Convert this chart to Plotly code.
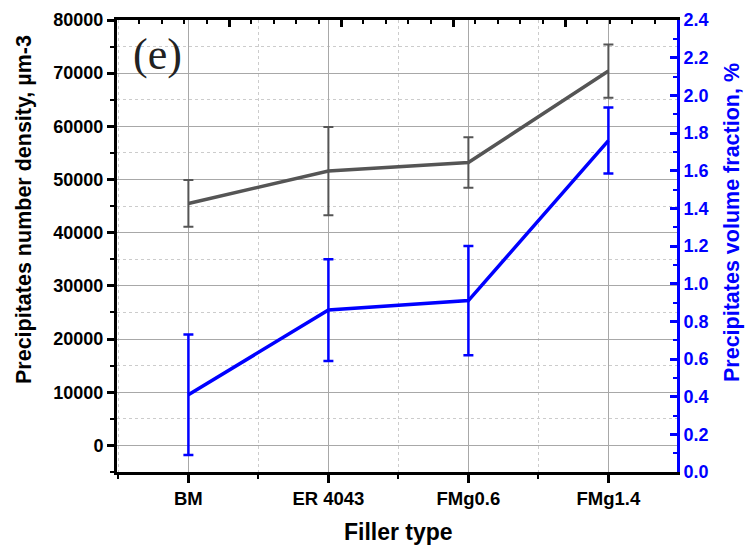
import plotly.graph_objects as go

# Data
fillers = ["BM", "ER 4043", "FMg0.6", "FMg1.4"]
number_density = [45500, 51600, 53200, 70400]          # µm-3
number_density_err = [4400, 8300, 4750, 5000]
volume_fraction = [0.41, 0.86, 0.91, 1.76]              # %
volume_fraction_err = [0.32, 0.27, 0.29, 0.175]

x_pos = list(range(len(fillers)))

GRAY = "#555555"
BLUE = "#0000ff"
FONT = "Liberation Sans"

W, H = 746, 547
L, R, T, B = 117, 69, 20, 75


def px(x, y):
    # pixel position -> paper coords
    return (x - L) / (W - L - R), (H - B - y) / (H - T - B)


fig = go.Figure()

# Number density on left axis
fig.add_trace(go.Scatter(
    x=x_pos, y=number_density, mode="lines",
    line=dict(color=GRAY, width=3.5),
    error_y=dict(type="data", array=number_density_err, color=GRAY, thickness=2, width=5),
    name="Number density",
))

# Volume fraction on right axis
fig.add_trace(go.Scatter(
    x=x_pos, y=volume_fraction, mode="lines",
    line=dict(color=BLUE, width=3.5),
    error_y=dict(type="data", array=volume_fraction_err, color=BLUE, thickness=2.5, width=5),
    yaxis="y2", name="Volume fraction",
))

# dummy trace so the top frame axis gets drawn
fig.add_trace(go.Scatter(x=[], y=[], xaxis="x2", yaxis="y", showlegend=False))

lx, ly = px(24, 210)
rx, ry = px(732, 223)
ex, ey = px(398, 532)
ax_, ay_ = px(131, 55)

fig.update_layout(
    width=W, height=H,
    margin=dict(l=L, r=R, t=T, b=B),
    plot_bgcolor="white", paper_bgcolor="white",
    showlegend=False,
    xaxis=dict(
        range=[-0.51, 3.49], automargin=False,
        tickmode="array", tickvals=x_pos, ticktext=fillers,
        tickfont=dict(family=FONT, size=18.5, color="black", weight="bold"),
        ticks="outside", ticklen=8, tickwidth=3, tickcolor="black",
        showline=True, linecolor="black", linewidth=3,
        showgrid=True, gridcolor="#a8a8a8", gridwidth=1,
        minor=dict(tickmode="linear", tick0=0.5, dtick=1, showgrid=True,
                   gridcolor="#cccccc", griddash="dot",
                   ticks="outside", ticklen=4, tickwidth=2, tickcolor="black"),
        zeroline=False,
    ),
    xaxis2=dict(
        overlaying="x", side="top", anchor="y", automargin=False,
        range=[0, 5], tickmode="linear", tick0=0, dtick=1,
        ticks="inside", ticklen=7, tickwidth=3, tickcolor="black",
        minor=dict(ticks="inside", ticklen=4, tickwidth=2, tickcolor="black"),
        showticklabels=False, showgrid=False, zeroline=False,
        showline=True, linecolor="black", linewidth=3,
    ),
    yaxis=dict(
        range=[-5000, 80000], automargin=False,
        tickmode="linear", tick0=0, dtick=10000, tickformat="d",
        tickfont=dict(family=FONT, size=18, color="black", weight="bold"),
        ticks="outside", ticklen=7, tickwidth=3, tickcolor="black",
        minor=dict(dtick=5000, ticks="outside", ticklen=4, tickwidth=2, tickcolor="black",
                   showgrid=True, gridcolor="#cccccc", griddash="dot"),
        showline=True, linecolor="black", linewidth=3,
        showgrid=True, gridcolor="#a8a8a8", gridwidth=1,
        zeroline=False,
    ),
    yaxis2=dict(
        overlaying="y", side="right", anchor="x", automargin=False,
        range=[0, 2.4], tickmode="linear", tick0=0, dtick=0.2, tickformat=".1f",
        tickfont=dict(family=FONT, size=18, color=BLUE, weight="bold"),
        ticks="inside", ticklen=7, tickwidth=3, tickcolor=BLUE,
        minor=dict(dtick=0.1, ticks="inside", ticklen=4, tickwidth=2, tickcolor=BLUE),
        showline=True, linecolor=BLUE, linewidth=3,
        showgrid=False, zeroline=False,
    ),
    annotations=[
        dict(text="(e)", xref="paper", yref="paper", x=ax_, y=ay_,
             xanchor="left", yanchor="middle", showarrow=False,
             font=dict(family="Liberation Serif", size=44, color="#222222")),
        dict(text="Precipitates number density, µm-3", xref="paper", yref="paper",
             x=lx, y=ly, textangle=-90, showarrow=False,
             xanchor="center", yanchor="middle",
             font=dict(family=FONT, size=21.5, color="black", weight="bold")),
        dict(text="Precipitates volume fraction, %", xref="paper", yref="paper",
             x=rx, y=ry, textangle=-90, showarrow=False,
             xanchor="center", yanchor="middle",
             font=dict(family=FONT, size=21.5, color=BLUE, weight="bold")),
        dict(text="Filler type", xref="paper", yref="paper",
             x=ex, y=ey, showarrow=False, xanchor="center", yanchor="middle",
             font=dict(family=FONT, size=23, color="black", weight="bold")),
    ],
)

# page has a default body margin; drop it so the figure fills the window
fig.write_html("out.html", config={"displayModeBar": False},
               post_script="document.body.style.margin = '0';")
